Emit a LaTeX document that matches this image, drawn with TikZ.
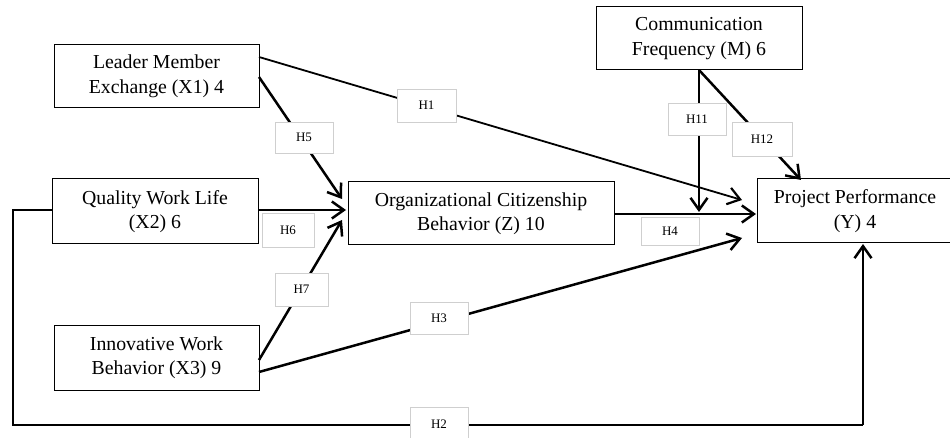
\documentclass[tikz,border=0pt]{standalone}
\usepackage{fontspec}
\setmainfont{Liberation Serif}
\usetikzlibrary{arrows.meta}
\definecolor{lblgray}{HTML}{CFCFCF}
\tikzset{
  var/.style={draw=black, line width=1pt, fill=white, align=center, inner sep=0pt,
    font=\fontsize{19.8}{24.5}\selectfont},
  hyp/.style={draw=lblgray, line width=0.8pt, fill=white, inner sep=0pt,
    font=\fontsize{13}{14}\selectfont},
  conn/.style={line width=2.5pt, -{Straight Barb[length=12pt,width=17pt,line width=2.5pt]}},
  thinconn/.style={line width=1.8pt, -{Straight Barb[length=12pt,width=17pt,line width=2.2pt]}},
}
\begin{document}
\begin{tikzpicture}[x=1pt,y=-1pt]
\useasboundingbox[fill=white] (0,0) rectangle (950,438);

% variable boxes
\node[var, minimum width=205pt, minimum height=63pt] (lmx) at (156.5,76.5) {Leader Member\\Exchange (X1) 4};
\node[var, minimum width=206pt, minimum height=65pt] (qwl) at (155,211.5) {Quality Work Life\\(X2) 6};
\node[var, minimum width=205pt, minimum height=65pt] (iwb) at (156.5,357.5) {Innovative Work\\Behavior (X3) 9};
\node[var, minimum width=266pt, minimum height=63pt] (ocb) at (481,213.5) {Organizational Citizenship\\Behavior (Z) 10};
\node[var, minimum width=206pt, minimum height=63pt] (cf) at (699,38.5) {Communication\\Frequency (M) 6};
\node[var, minimum width=196pt, minimum height=64pt] (pp) at (855,211) {Project Performance\\(Y) 4};

% anchor coordinates
\coordinate (lmxA) at (259,57);
\coordinate (lmxB) at (259,77);
\coordinate (qwlE) at (258,210);
\coordinate (qwlW) at (52,210);
\coordinate (iwbA) at (259,360);
\coordinate (iwbB) at (259,372);
\coordinate (ocbH5) at (342,199);
\coordinate (ocbH6) at (346,210);
\coordinate (ocbH7) at (342,220);
\coordinate (ocbE) at (614,214);
\coordinate (ppH1) at (742,200);
\coordinate (ppH4) at (756,214);
\coordinate (ppH3) at (742,238);
\coordinate (ppH12) at (801,180);
\coordinate (ppS) at (863,244);
\coordinate (cfS) at (699,70);
\coordinate (h11end) at (699,212);
\coordinate (c1) at (13,210);
\coordinate (c2) at (13,425);
\coordinate (c3) at (863,425);

% connectors
\draw[thinconn] (lmxA) -- (ppH1);
\draw[conn] (lmxB) -- (ocbH5);
\draw[conn] (qwlE) -- (ocbH6);
\draw[conn] (iwbA) -- (ocbH7);
\draw[conn] (iwbB) -- (ppH3);
\draw[conn] (ocbE) -- (ppH4);
\draw[conn] (cfS) -- (h11end);
\draw[conn] (cfS) -- (ppH12);
\draw[line width=1.6pt] (qwlW) -- (c1) -- (c2) -- (c3);
\draw[conn] (c3) -- (ppS);

% hypothesis labels
\node[hyp, minimum width=59pt, minimum height=33pt] (h1) at (426.5,105.5) {H1};
\node[hyp, minimum width=58pt, minimum height=31pt] (h5) at (304,137.5) {H5};
\node[hyp, minimum width=52pt, minimum height=34pt] (h6) at (288,230) {H6};
\node[hyp, minimum width=53pt, minimum height=33pt] (h7) at (301.5,289.5) {H7};
\node[hyp, minimum width=58pt, minimum height=32pt] (h3) at (439,318) {H3};
\node[hyp, minimum width=58pt, minimum height=28pt] (h4) at (670,231) {H4};
\node[hyp, minimum width=58pt, minimum height=32pt] (h11) at (697,119) {H11};
\node[hyp, minimum width=60pt, minimum height=34pt] (h12) at (762,139) {H12};
\node[hyp, minimum width=58pt, minimum height=33pt] (h2) at (439,424) {H2};
\end{tikzpicture}
\end{document}
